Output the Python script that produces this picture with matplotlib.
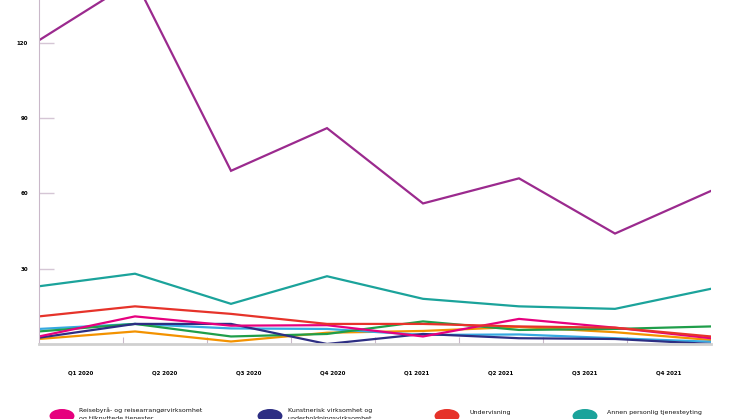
import numpy as np
import matplotlib
matplotlib.use('agg')
import matplotlib.pyplot as plt
from matplotlib.patches import Circle

quarters = ['Q1 2020', 'Q2 2020', 'Q3 2020', 'Q4 2020', 'Q1 2021', 'Q2 2021', 'Q3 2021', 'Q4 2021']

# values
purple = [121, 145, 69, 86, 56, 66, 44, 61]
teal = [23, 28, 16, 27, 18, 15, 14, 22]
red = [11, 15, 12, 8, 8, 7, 6.5, 3]
pink = [3, 11, 7.3, 7.5, 3, 10, 6.5, 2.3]
navy = [2.5, 8, 8, 0, 4, 2.3, 2, 0]
green = [5, 8, 3, 4, 9, 5.6, 6, 7]
lightblue = [6, 8, 6.2, 6, 3.6, 3.8, 2.3, 0.9]
orange = [2, 5, 1, 4.5, 5.2, 6.8, 4.7, 1.6]

series = [
    (orange, '#f39200'),
    (lightblue, '#36a9e1'),
    (green, '#1f9e4a'),
    (navy, '#2d2e83'),
    (pink, '#e6007e'),
    (red, '#e6332a'),
    (teal, '#1ba39b'),
    (purple, '#9b2a8e'),
]

legend_labels = ['Reisebyrå- og reisearrangørvirksomhet\nog tilknyttede tjenester',
                 'Kunstnerisk virksomhet og\nunderholdningsvirksomhet',
                 'Undervisning',
                 'Annen personlig tjenesteyting']
legend_colors = ['#e6007e', '#2d2e83', '#e6332a', '#1ba39b']

W, H = 746, 419
fig = plt.figure(figsize=(W/100, H/100), dpi=100)
ax = fig.add_axes([39/W, 1-344/H, (711-39)/W, 344/H])

n = len(quarters)
x = np.arange(n)
for vals, col in series:
    ax.plot(x, vals, color=col, lw=1.6, solid_joinstyle='miter')

ax.set_xlim(0, n-1)
ax.set_ylim(0, 344/2.51)

# y axis
ax.set_yticks([30, 60, 90, 120])
ax.tick_params(axis='y', direction='in', length=11, width=1.0, color='#d5c6d5',
               labelsize=4, pad=8)
for lab in ax.get_yticklabels():
    lab.set_fontweight('bold')

# x axis: ticks between bands, labels at band centres
step = (n-1)/n
ax.set_xticks([k*step for k in range(1, n)])
ax.set_xticklabels([])
ax.tick_params(axis='x', which='major', direction='in', length=5, width=0.8, color='#c9b8c9')
ax.set_xticks([(k+0.5)*step for k in range(n)], minor=True)
ax.set_xticklabels(quarters, minor=True, fontsize=4, fontweight='bold')
ax.tick_params(axis='x', which='minor', length=0, pad=19)

for s in ['top', 'right']:
    ax.spines[s].set_visible(False)
ax.spines['left'].set_color('#c9b8c9')
ax.spines['left'].set_linewidth(0.8)
ax.spines['bottom'].set_color('#d0d0d0')
ax.spines['bottom'].set_linewidth(2)

# legend (cut off at bottom of image)
cx = [62, 270, 447, 585]
tx = [79, 288, 469, 607]
for c, t, lab, col in zip(cx, tx, legend_labels, legend_colors):
    fig.patches.append(Circle((c/W, 1-416/H), 7/H, transform=fig.transFigure,
                              color=col, lw=0))
    fig.text(t/W, 1-412/H, lab, fontsize=4.5, va='center_baseline', ha='left',
             linespacing=1.8, color='#111111')

fig.savefig('out.png', dpi=100)
